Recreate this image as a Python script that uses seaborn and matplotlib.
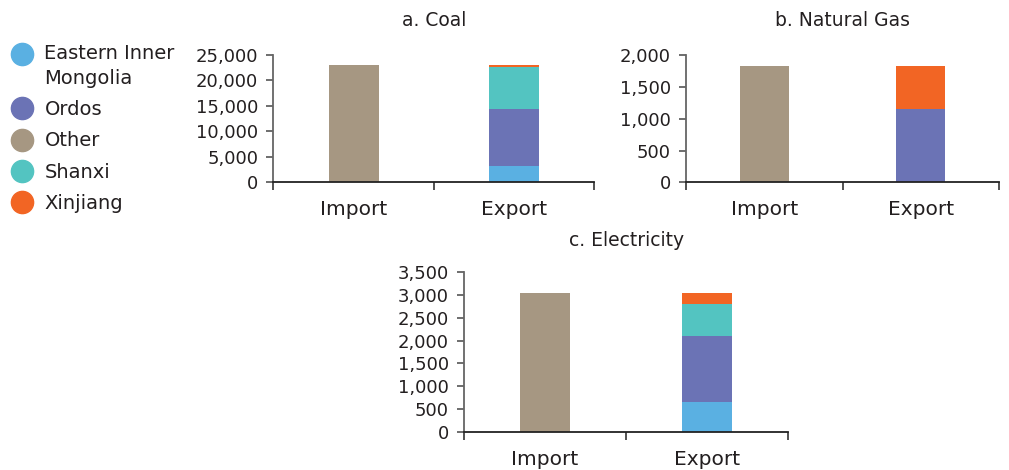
import pandas as pd
import matplotlib.pyplot as plt
import seaborn as sns
from matplotlib.lines import Line2D
from matplotlib.legend_handler import HandlerLine2D
from matplotlib.ticker import FuncFormatter, MultipleLocator, FixedLocator

# data
flows = ["Import", "Export"]
regions = ["Other", "Eastern Inner Mongolia", "Ordos", "Shanxi", "Xinjiang"]  # stack order, bottom first

coal_import = [23000, 0, 0, 0, 0]
coal_export = [0, 3200, 11200, 8200, 400]
gas_import = [1830, 0, 0, 0, 0]
gas_export = [0, 0, 1150, 0, 680]
elec_import = [3040, 0, 0, 0, 0]
elec_export = [0, 650, 1450, 700, 240]

colors = {
    "Eastern Inner Mongolia": "#5AB0E2",
    "Ordos": "#6B73B5",
    "Other": "#A69782",
    "Shanxi": "#53C4C1",
    "Xinjiang": "#F26524",
}
legend_order = ["Eastern Inner Mongolia", "Ordos", "Other", "Shanxi", "Xinjiang"]
legend_labels = ["Eastern Inner\nMongolia", "Ordos", "Other", "Shanxi", "Xinjiang"]

panels = [
    ("a. Coal", coal_import, coal_export, 25000, 5000),
    ("b. Natural Gas", gas_import, gas_export, 2000, 500),
    ("c. Electricity", elec_import, elec_export, 3500, 500),
]

# long table with cumulative heights for stacking
rows = []
for title, imp, exp, _, _ in panels:
    for flow, vals in zip(flows, [imp, exp]):
        cum = 0
        for reg, v in zip(regions, vals):
            cum += v
            rows.append({"panel": title, "flow": flow, "region": reg, "value": v, "cum": cum})
df = pd.DataFrame(rows)


# put the marker next to the first line of a two-line label
class TopMarker(HandlerLine2D):
    def create_artists(self, legend, orig_handle, xdescent, ydescent, width, height, fontsize, trans):
        return super().create_artists(legend, orig_handle, xdescent, ydescent - 18, width, height, fontsize, trans)


sns.set_theme(style="white")
plt.rcParams["font.family"] = ["DejaVu Sans"]
txt = "#231F20"

fig = plt.figure(figsize=(10.09, 4.7), dpi=100)
positions = [
    [0.271, 0.612, 0.318, 0.271],
    [0.680, 0.612, 0.310, 0.271],
    [0.460, 0.0815, 0.321, 0.339],
]

for (title, _, _, ymax, step), pos in zip(panels, positions):
    ax = fig.add_axes(pos)
    sub = df[(df["panel"] == title) & (df["value"] > 0)]
    # draw tallest cumulative layer first so lower layers sit on top
    for reg in regions[::-1]:
        layer = sub[sub["region"] == reg]
        if layer.empty:
            continue
        sns.barplot(data=layer, x="flow", y="cum", order=flows, color=colors[reg],
                    width=0.31, saturation=1, linewidth=0, ax=ax, errorbar=None)
    ax.set_xlim(-0.5, 1.5)
    ax.set_ylim(0, ymax)
    ax.yaxis.set_major_locator(MultipleLocator(step))
    ax.yaxis.set_major_formatter(FuncFormatter(lambda y, p: f"{int(y):,}"))
    ax.xaxis.set_minor_locator(FixedLocator([-0.5, 0.5, 1.5]))
    ax.tick_params(axis="x", which="major", length=0, pad=13, labelsize=14.5, labelcolor=txt)
    ax.tick_params(axis="x", which="minor", bottom=True, length=6, width=1.2, color="#333333", direction="out")
    ax.tick_params(axis="y", left=True, length=5, width=1.2, color="#555555", pad=6,
                   labelsize=13, labelcolor=txt, direction="out")
    ax.set_xlabel("")
    ax.set_ylabel("")
    sns.despine(ax=ax)
    ax.spines["left"].set_color("#666666")
    ax.spines["left"].set_linewidth(1.3)
    ax.spines["bottom"].set_color("#222222")
    ax.spines["bottom"].set_linewidth(1.3)
    ax.set_title(title, fontsize=13.5, color=txt, pad=21 if ymax != 3500 else 19)

handles = [Line2D([], [], marker="o", linestyle="", markersize=16, color=colors[r]) for r in legend_order]
leg = fig.legend(handles, legend_labels, loc="upper left", bbox_to_anchor=(10.4 / 1009, 1 - 44 / 470),
                 frameon=False, fontsize=14, handlelength=1.2, handletextpad=0.55,
                 labelspacing=0.63, borderpad=0, borderaxespad=0, labelcolor=txt,
                 handler_map={handles[0]: TopMarker()})
for t in leg.get_texts():
    t.set_linespacing(1.4)

plt.savefig("out.png", dpi=100)
